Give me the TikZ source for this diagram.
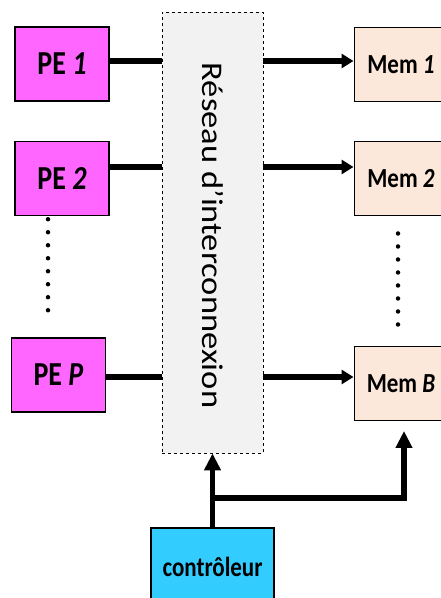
\documentclass[tikz,border=0pt]{standalone}
\usepackage{fontspec}
\usepackage{graphicx}
\setmainfont{Carlito}
\usetikzlibrary{arrows.meta, positioning, calc}
\definecolor{peFill}{HTML}{FF66FF}
\definecolor{memFill}{HTML}{FCE8DA}
\definecolor{netFill}{HTML}{F2F2F2}
\definecolor{ctlFill}{HTML}{33CCFF}
\newcommand{\tall}[1]{\scalebox{1}[1.2]{#1}}

\begin{document}
\begin{tikzpicture}[x=1pt, y=1pt, >=Triangle,
  pebox/.style={draw, line width=1.5pt, fill=peFill, inner sep=0pt,
    minimum width=94pt, minimum height=74pt,
    font=\fontsize{28}{30}\selectfont\bfseries},
  membox/.style={draw, line width=1pt, fill=memFill, inner sep=0pt,
    minimum width=94pt, minimum height=74pt,
    font=\fontsize{23}{25}\selectfont\bfseries},
  netbox/.style={draw, dashed, line width=0.8pt, fill=netFill, inner sep=0pt,
    minimum width=101pt, minimum height=441pt},
  ctlbox/.style={draw, line width=1.5pt, fill=ctlFill, inner sep=0pt,
    minimum width=123pt, minimum height=78pt,
    font=\fontsize{23}{25}\selectfont\bfseries},
  bus/.style={line width=5.5pt},
  vdots/.style={line width=4.5pt, line cap=round, dash pattern=on 0pt off 13pt}]
  \useasboundingbox (0,0) rectangle (440,598);

  % Nodes
  \node[netbox] (net) at (212.5,365.5) {};
  \node[rotate=-90, font=\fontsize{30}{32}\selectfont] (netlabel)
    at ([yshift=-3pt]net.center) {\scalebox{1.15}[1]{Réseau d’interconnexion}};
  \node[pebox] (P1) at (62,534) {\tall{PE \textit{1}}};
  \node[pebox] (P2) at (62,419.5) {\tall{PE \textit{2}}};
  \node[pebox] (PP) at (58.5,223) {\tall{PE \textit{P}}};
  \node[membox] (M1) at (401,533.5) {\tall{Mem \textit{1}}};
  \node[membox] (M2) at (401,419) {\tall{Mem \textit{2}}};
  \node[membox] (MB) at (401,214.5) {\tall{Mem \textit{B}}};
  \node[ctlbox] (ctl) at (212.5,31) {\tall{contrôleur}};

  % PE links into the network
  \draw[bus] ([yshift=3pt]P1.east) -- ([yshift=3pt]P1.east -| net.west);
  \draw[bus] ([yshift=11.5pt]P2.east) -- ([yshift=11.5pt]P2.east -| net.west);
  \draw[bus] ([yshift=-2pt]PP.east) -- ([yshift=-2pt]PP.east -| net.west);

  % Network to memories
  \draw[bus, ->, >={Triangle[length=12pt, width=14pt]}]
    ([yshift=3pt]P1.east -| net.east) -- ([yshift=3pt]P1.east -| M1.west);
  \draw[bus, ->, >={Triangle[length=12pt, width=14pt]}]
    ([yshift=11.5pt]P2.east -| net.east) -- ([yshift=11.5pt]P2.east -| M2.west);
  \draw[bus, ->, >={Triangle[length=12pt, width=14pt]}]
    ([yshift=-2pt]PP.east -| net.east) -- ([yshift=-2pt]PP.east -| MB.west);

  % Controller
  \draw[bus, ->, >={Triangle[length=17pt, width=16pt]}] (ctl) -- (net);
  \draw[bus, ->, >={Triangle[length=17pt, width=16pt]}]
    ([yshift=29pt]ctl.north) -| ([xshift=3pt, yshift=-10pt]MB.south);

  % Dots
  \draw[vdots] ([xshift=-14pt, yshift=-3pt]P2.south) -- ([xshift=-10.5pt, yshift=16pt]PP.north);
  \draw[vdots] ([xshift=-3pt, yshift=-17pt]M2.south) -- ([xshift=-3pt, yshift=19pt]MB.north);
\end{tikzpicture}
\end{document}
